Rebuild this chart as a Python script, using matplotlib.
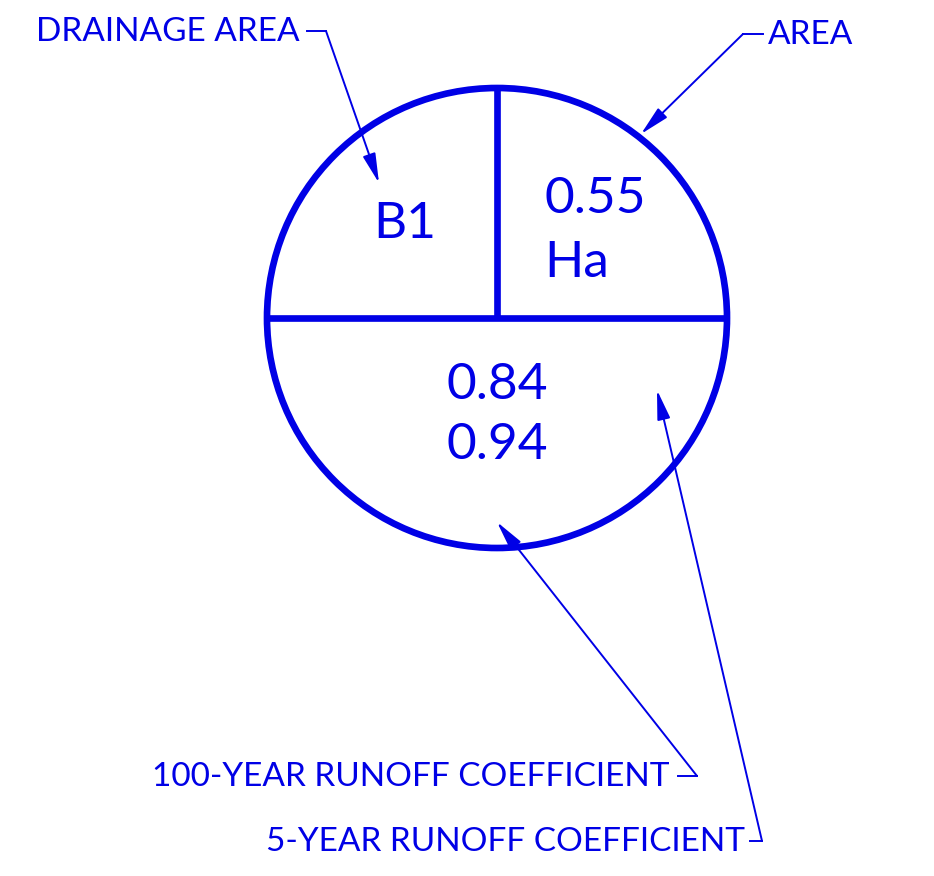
import matplotlib.pyplot as plt
from matplotlib.patches import Circle

# Callout contents
area_name = 'B1'
area_value = ['0.55', 'Ha']
coefficients = ['0.84', '0.94']
labels = ['DRAINAGE AREA', 'AREA', '100-YEAR RUNOFF COEFFICIENT', '5-YEAR RUNOFF COEFFICIENT']

blue = '#0000e6'
plt.rcParams['font.family'] = ['Lato', 'DejaVu Sans']

fig = plt.figure(figsize=(9.34, 8.76), dpi=100)
ax = fig.add_axes([0, 0, 1, 1])
ax.set_xlim(0, 934)
ax.set_ylim(876, 0)
ax.set_aspect('equal')
ax.axis('off')

# circle symbol
cx, cy, r = 497, 318, 230
ax.add_patch(Circle((cx, cy), r, fill=False, ec=blue, lw=4.8))
ax.plot([cx - r, cx + r], [cy, cy], color=blue, lw=4.8, solid_capstyle='butt')
ax.plot([cx, cx], [cy - r, cy], color=blue, lw=4.8, solid_capstyle='butt')

big = 37
ax.text(405, 224, area_name, fontsize=big, color=blue, ha='center', va='center')
ax.text(544, 199, area_value[0], fontsize=big, color=blue, ha='left', va='center')
ax.text(544, 263, area_value[1], fontsize=big, color=blue, ha='left', va='center')
ax.text(cx, 385, coefficients[0], fontsize=big, color=blue, ha='center', va='center')
ax.text(cx, 445, coefficients[1], fontsize=big, color=blue, ha='center', va='center')

small = 24
arrow = dict(arrowstyle='-|>,head_length=1.0,head_width=0.22', color=blue, lw=1.4,
             shrinkA=0, shrinkB=0, mutation_scale=18)

# leaders: label, short jog, then arrow to the tip
ax.text(300, 32, labels[0], fontsize=small, color=blue, ha='right', va='center')
ax.plot([307, 326], [31, 31], color=blue, lw=1.4)
ax.annotate('', xy=(379, 183), xytext=(326, 31), arrowprops=arrow)

ax.text(768, 35, labels[1], fontsize=small, color=blue, ha='left', va='center')
ax.plot([763, 743], [34, 34], color=blue, lw=1.4)
ax.annotate('', xy=(641, 134), xytext=(743, 34), arrowprops=arrow)

ax.text(670, 777, labels[2], fontsize=small, color=blue, ha='right', va='center')
ax.plot([678, 697], [776, 776], color=blue, lw=1.4)
ax.annotate('', xy=(497, 522), xytext=(697, 776), arrowprops=arrow)

ax.text(745, 842, labels[3], fontsize=small, color=blue, ha='right', va='center')
ax.plot([750, 762], [841, 841], color=blue, lw=1.4)
ax.annotate('', xy=(657, 390), xytext=(762, 841), arrowprops=arrow)

plt.savefig('out.png', dpi=100)
